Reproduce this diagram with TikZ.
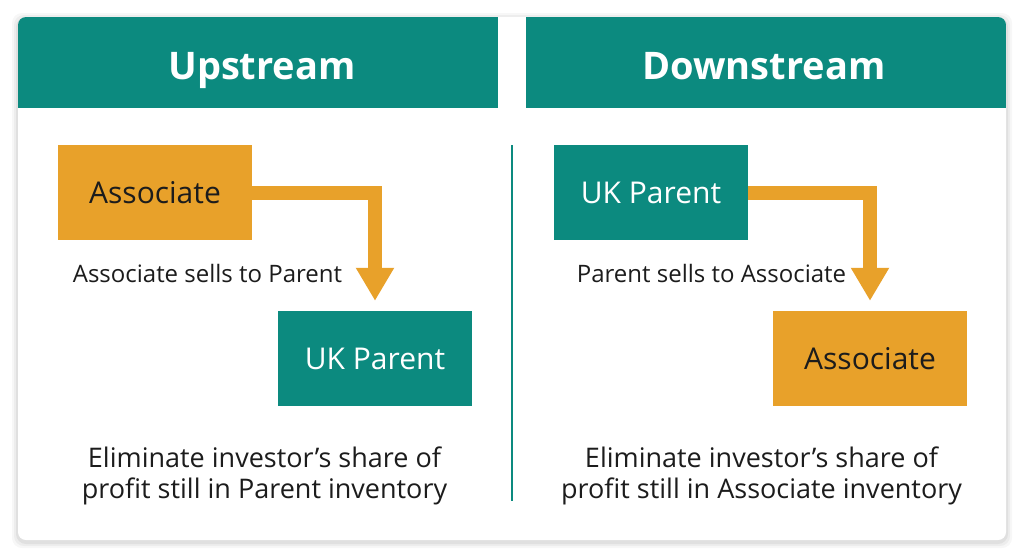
\documentclass[tikz,border=0pt]{standalone}
\usepackage{fontspec}
\setmainfont{Open Sans}
\usetikzlibrary{arrows.meta,shadows}
\definecolor{tealc}{HTML}{0C8A7F}
\definecolor{orangec}{HTML}{E8A12A}
\definecolor{textc}{HTML}{1C1C1C}
\begin{document}
\begin{tikzpicture}[x=1pt,y=-1pt,
  head/.style={text=white,anchor=base,inner sep=0pt,font=\fontsize{38}{44}\selectfont\bfseries},
  tealbox/.style={fill=tealc,minimum width=194pt,minimum height=95pt,inner sep=0pt,text=white,font=\fontsize{30}{34}\selectfont},
  orangebox/.style={fill=orangec,minimum width=194pt,minimum height=95pt,inner sep=0pt,text=textc,font=\fontsize{30}{34}\selectfont},
  lbl/.style={text=textc,font=\fontsize{24}{28}\selectfont},
  note/.style={text=textc,align=center,font=\fontsize{27}{31}\selectfont},
  flow/.style={draw=orangec,line width=14pt,line join=miter,-{Triangle[width=36pt,length=33pt]},shorten >=10pt}]
\useasboundingbox (0,0) rectangle (1024,558);
\fill[white] (0,0) rectangle (1024,558);
% card shadow
\foreach \i/\o in {6/0.03,4/0.04,2/0.05}{
  \fill[black,opacity=\o,rounded corners=10pt] (18-\i,17-\i+2) rectangle (1006+\i,540+\i+2);
}
\fill[white,rounded corners=8pt] (18,17) rectangle (1006,540);
\begin{scope}
  \clip[rounded corners=8pt] (18,17) rectangle (1006,540);
  \fill[tealc] (18,17) rectangle (498,108);
  \fill[tealc] (526,17) rectangle (1006,108);
\end{scope}
\node[head] (hup) at (262,79) {Upstream};
\node[head] (hdown) at (764,79) {Downstream};
% divider
\coordinate (dtop) at (512,145);
\coordinate (dbot) at (512,501);
\draw[tealc,line width=2pt] (dtop) -- (dbot);
% left
\node[orangebox] (la) at (155,192.5) {Associate};
\node[tealbox] (lp) at (375,358.5) {UK Parent};
\draw[flow] (la.east) -| (lp.north);
\node[lbl] (ll) at (207.5,273) {Associate sells to Parent};
\node[note] (ln) at (264.5,476) {Eliminate investor’s share of\\profit still in Parent inventory};
% right
\node[tealbox] (rp) at (651,192.5) {UK Parent};
\node[orangebox] (ra) at (870,358.5) {Associate};
\draw[flow] (rp.east) -| (ra.north);
\node[lbl] (rl) at (711.5,273) {Parent sells to Associate};
\node[note] (rn) at (761.5,476) {Eliminate investor’s share of\\profit still in Associate inventory};
\end{tikzpicture}
\end{document}
